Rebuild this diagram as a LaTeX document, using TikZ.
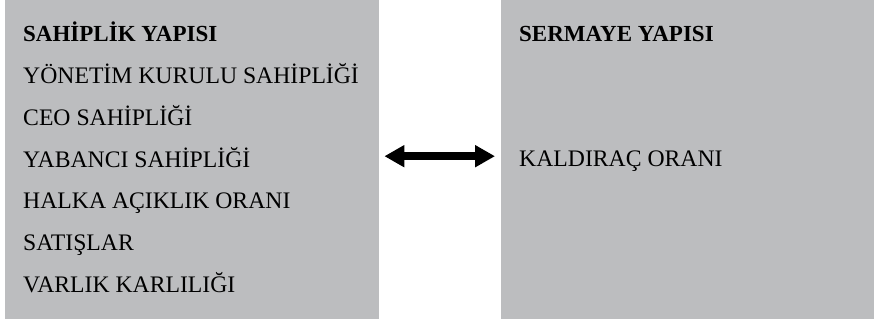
\documentclass[tikz,border=0pt]{standalone}
\usepackage{fontspec}
\setmainfont{Liberation Serif}
\usepackage{xcolor}
\usetikzlibrary{arrows.meta}
\definecolor{kutugri}{RGB}{188,189,191}

\tikzset{
  kutu/.style={fill=kutugri, draw=none, inner sep=0pt, anchor=north west},
  satir/.style={anchor=base west, inner sep=0pt, font=\fontsize{23.7}{28}\selectfont},
  baslik/.style={satir, font=\fontsize{23}{28}\selectfont\bfseries},
  ciftok/.style={line width=8pt, {Triangle[length=20pt,width=21pt]}-{Triangle[length=20pt,width=21pt]}}
}

\begin{document}
\begin{tikzpicture}[x=1pt,y=-1pt]
\useasboundingbox (0,0) rectangle (874,323);
% kutular
\node[kutu, minimum width=374pt, minimum height=319pt] (sol) at (5,0) {};
\node[kutu, minimum width=373pt, minimum height=319pt] (sag) at (501,0) {};

% sol kutu
\node[baslik] (sahiplik) at (23,42) {SAHİPLİK YAPISI};
\foreach \metin [count=\i] in {YÖNETİM KURULU SAHİPLİĞİ, CEO SAHİPLİĞİ,
    YABANCI SAHİPLİĞİ, HALKA AÇIKLIK ORANI, SATIŞLAR, VARLIK KARLILIĞI}
  \node[satir] (sol\i) at (23,42+41.7*\i) {\metin};

% sag kutu
\node[baslik] (sermaye) at (519,42) {SERMAYE YAPISI};
\node[satir] (kaldirac) at (519,167) {KALDIRAÇ ORANI};

% ok
\draw[ciftok, shorten <=5pt, shorten >=6pt] ([yshift=3.5pt]sol.east) -- ([yshift=3.5pt]sag.west);
\end{tikzpicture}
\end{document}
